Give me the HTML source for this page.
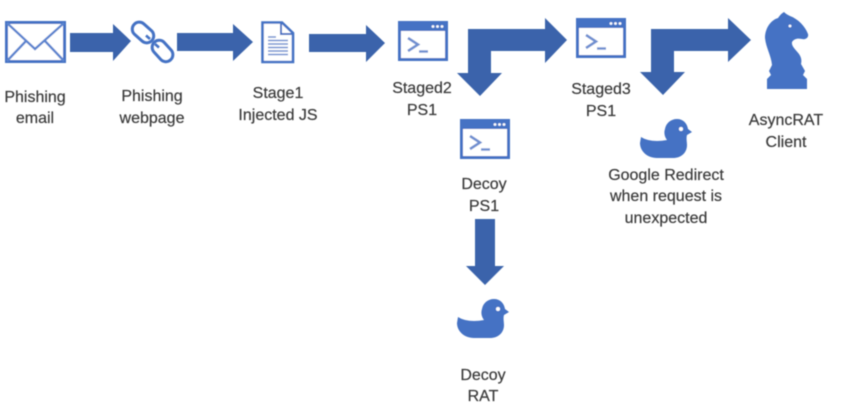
<!DOCTYPE html>
<html><head><meta charset="utf-8">
<style>
html,body{margin:0;padding:0;background:#fff;width:846px;height:415px;overflow:hidden}
svg{display:block}
text{font-family:"Liberation Sans",sans-serif;font-size:16px;fill:#3a3a3a;stroke:#3a3a3a;stroke-width:.2px;text-anchor:middle}
.a{fill:#3b63ab}
.i{fill:#4472c4}
.s{fill:none;stroke:#4472c4}
</style></head><body>
<svg width="846" height="415" viewBox="0 0 846 415" xmlns="http://www.w3.org/2000/svg">
<defs>
<filter id="b" x="-5%" y="-5%" width="110%" height="110%"><feGaussianBlur stdDeviation="0.55"/></filter>
<g id="win">
<rect x="1.500" y="1.500" width="47" height="37" fill="#fff" stroke="#4472c4" stroke-width="3"/>
<rect x="1" y="1" width="48" height="9" fill="#4472c4"/>
<circle cx="35" cy="5.500" r="1.400" fill="#fff"/><circle cx="39.500" cy="5.500" r="1.400" fill="#fff"/><circle cx="44" cy="5.500" r="1.400" fill="#fff"/>
<path d="M10 17L20 23.500L10 30" fill="none" stroke="#6f8fd0" stroke-width="2.600"/>
<path d="M21 30.500H30" fill="none" stroke="#6f8fd0" stroke-width="2.400"/>
</g>
<path id="duck" d="M1 18C7 22 17 23 27 21C24 17 24 13 25 10C26 4 31 0 37 0C43 0 47 4 48 10L52 13L47 16C46 19 47 23 47 26C47 34 41 39 33 39H17C7 39 0 32 0 24Z" fill="#4472c4"/>
</defs>
<g filter="url(#b)">
<!-- envelope -->
<rect x="6.500" y="22.500" width="58" height="39" fill="#fff" stroke="#4472c4" stroke-width="3"/>
<path d="M7 23L35 49L64 23M7 61L26 41M64 61L45 41" fill="none" stroke="#5b84cf" stroke-width="2.400"/>
<!-- arrows -->
<path class="a" d="M70 33H113V24L131 41L113 61V52H70Z"/>
<path class="a" d="M177 33H233V24L253 42L233 61V51H177Z"/>
<path class="a" d="M309 34H366V25L385 43L366 62V52H309Z"/>
<path class="a" d="M468 29H545V18L567 40L545 63V51H491V73H502L480 96L457 73H468Z"/>
<path class="a" d="M651 29H728V18L751 40L728 62V51H674V72H685L663 95L640 72H651Z"/>
<path class="a" d="M475 219H495V266H504L485 285L466 266H475Z"/>
<!-- link -->
<g class="s" stroke-width="3">
<rect x="-12" y="-7" width="24" height="14" rx="7" transform="translate(143 32.500) rotate(42)"/>
<rect x="-12" y="-7" width="24" height="14" rx="7" transform="translate(162.500 51) rotate(48)"/>
</g>
<path d="M146 35.500L150 39M159 47.500L155 44" stroke="#4472c4" stroke-width="2.600" fill="none"/>
<!-- document -->
<path d="M262.500 22.500H282L293 33V62H262.500Z" fill="#fff" stroke="#4472c4" stroke-width="2.600"/>
<path d="M281 22V34H293" fill="none" stroke="#4472c4" stroke-width="2"/>
<path d="M268 37H276M268 40.500H288M268 44H288M268 47.500H288M268 51H288M268 54.500H288" stroke="#6f8fd0" stroke-width="1.500"/>
<!-- windows -->
<use href="#win" x="398" y="21"/>
<use href="#win" x="460" y="119"/>
<use href="#win" x="576" y="18"/>
<!-- ducks -->
<use href="#duck" x="640" y="119"/>
<circle cx="681" cy="129" r="2" fill="#fff"/>
<use href="#duck" x="457" y="299"/>
<circle cx="498" cy="309" r="2" fill="#fff"/>
<!-- knight -->
<path class="i" d="M784 12C786 14 788 15 790 16C798 19 805 26 808 34C809 37 806 40 802 39C797 38 794 39 792 42C791 46 796 50 799 54C801 57 802 60 801 64L805 71L803 75L807 79V89H767V79L771 75L769 71L772 65C771 55 766 48 765 38C765 28 771 20 778 18C780 15 782 13 784 12Z"/>
<circle cx="790" cy="26" r="1.400" fill="#fff"/>
<!-- labels -->
<text x="35" y="102">Phishing</text><text x="35" y="123">email</text>
<text x="152" y="101">Phishing</text><text x="152" y="123">webpage</text>
<text x="278" y="98">Stage1</text><text x="278" y="120">Injected JS</text>
<text x="422" y="93">Staged2</text><text x="422" y="115">PS1</text>
<text x="484" y="189">Decoy</text><text x="484" y="211">PS1</text>
<text x="601" y="94">Staged3</text><text x="601" y="116">PS1</text>
<text x="666" y="180">Google Redirect</text><text x="666" y="201">when request is</text><text x="666" y="223">unexpected</text>
<text x="786" y="125">AsyncRAT</text><text x="786" y="147">Client</text>
<text x="483" y="380">Decoy</text><text x="483" y="401">RAT</text>
</g>
</svg>
</body></html>
